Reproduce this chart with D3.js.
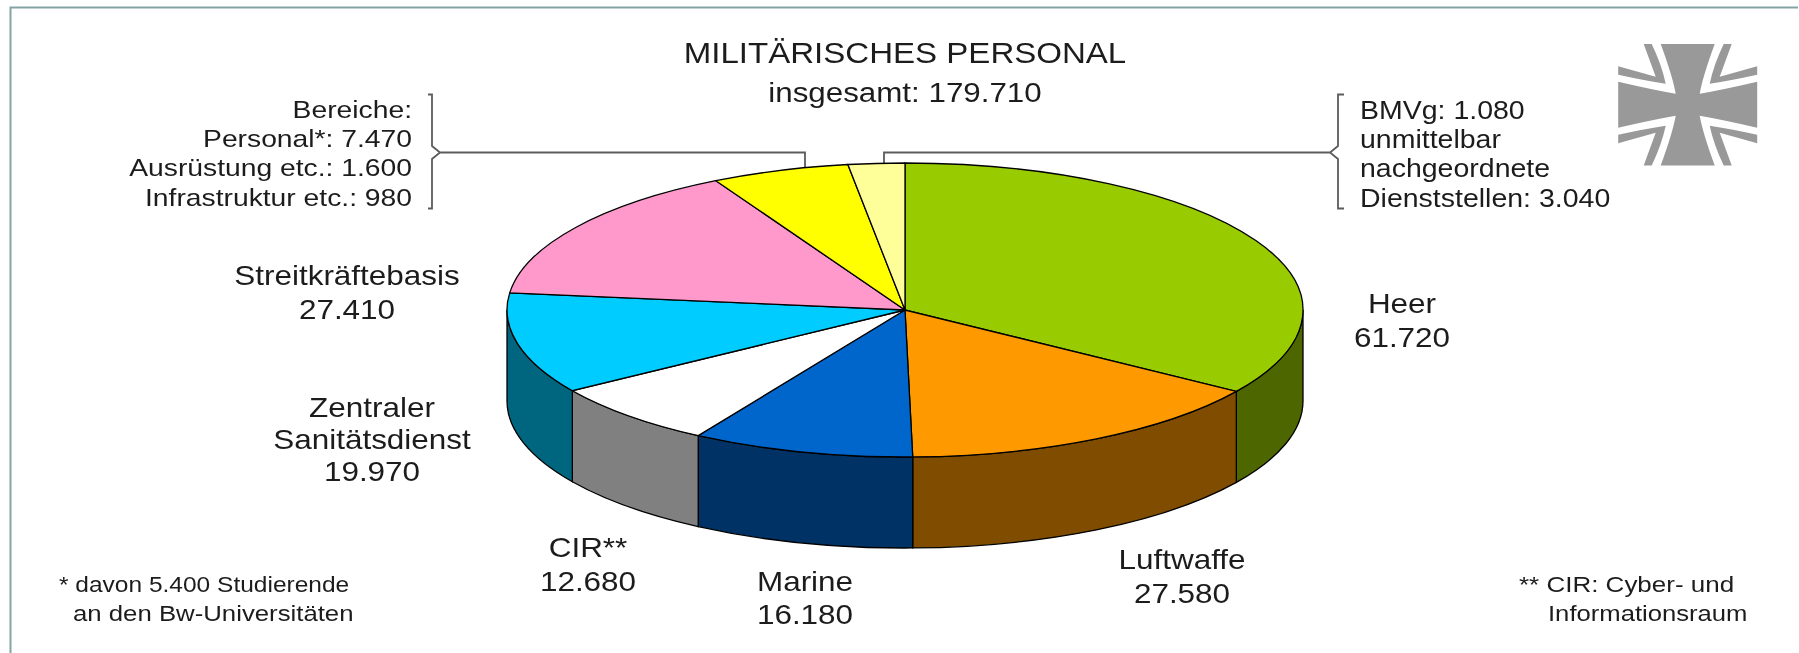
<!doctype html>
<html>
<head>
    <meta charset="UTF-8">
    <title>Militaerisches Personal</title>
    <script src="https://cdn.jsdelivr.net/npm/d3@7"></script>
    <style>
        body { margin:0; background:#fff; }
        text { font-family: "Liberation Sans", Arial, sans-serif; fill:#1c1c1c; }
    </style>
</head>
<body>
<script>
    // slices run clockwise from 12 o'clock
    var units = ['Heer', 'Luftwaffe', 'Marine', 'CIR', 'Zentraler Sanitätsdienst', 'Streitkräftebasis', 'Bereiche', 'BMVg'];
    var strength = [61720, 27580, 16180, 12680, 19970, 27410, 10050, 4120];
    var topColors = ['#99cc00', '#ff9900', '#0066cc', '#ffffff', '#00ccff', '#ff99cc', '#ffff00', '#ffff99'];
    var sideColors = ['#4d6600', '#804d00', '#003366', '#808080', '#006680', '#804d66', '#808000', '#808050'];

    var width = 1799, height = 653;
    var cx = 905, cy = 310, rx = 398, ry = 147, depth = 91;
    var stretch = 1.14;   // the source picture is wider than it is tall

    var svg = d3.select("body").append("svg")
        .attr("width", width)
        .attr("height", height)
        .style("display", "block");

    svg.append("defs").append("filter")
        .attr("id", "soft")
        .attr("x", 0).attr("y", 0)
        .attr("width", 1).attr("height", 1)
        .attr("filterUnits", "objectBoundingBox")
        .append("feGaussianBlur")
        .attr("stdDeviation", 0.6);

    var root = svg.append("g").attr("filter", "url(#soft)");

    root.append("rect").attr("width", width).attr("height", height).attr("fill", "#fff");

    // frame, runs off the bottom of the picture
    root.append("path")
        .attr("d", "M10.5,660 V7.5 H1798")
        .attr("fill", "none")
        .attr("stroke", "#86a3a3")
        .attr("stroke-width", 2);

    var pie = d3.pie().sort(null).value(function (d) { return d; });
    var slices = pie(strength);

    var x = d3.scaleLinear().domain([-1, 1]).range([cx - rx, cx + rx]);
    var y = d3.scaleLinear().domain([-1, 1]).range([cy - ry, cy + ry]);

    var px = function (a) { return x(Math.sin(a)); };
    var py = function (a) { return y(-Math.cos(a)); };

    // BRACKET LINES (under the pie)
    var bracket = root.append("g")
        .attr("fill", "none")
        .attr("stroke", "#5c5c5c")
        .attr("stroke-width", 1.8);

    bracket.append("path").attr("d",
        "M428,94.5 H432 V146 L440,152.5 L432,159 V208.5 H428 M440,152.5 H805 V170");
    bracket.append("path").attr("d",
        "M1344,94.5 H1338 V146 L1330,152.5 L1338,159 V208.5 H1344 M1330,152.5 H884 V170");

    // SIDE WALLS, only the front half can be seen
    var wall = function (d) {
        var a0 = Math.max(d.startAngle, Math.PI / 2),
            a1 = Math.min(d.endAngle, 3 * Math.PI / 2);
        if (a1 <= a0) { return null; }
        return "M" + px(a0) + "," + py(a0) +
            "A" + rx + "," + ry + " 0 0 1 " + px(a1) + "," + py(a1) +
            "V" + (py(a1) + depth) +
            "A" + rx + "," + ry + " 0 0 0 " + px(a0) + "," + (py(a0) + depth) + "Z";
    };

    root.selectAll(".wall")
        .data(slices)
        .enter()
        .append("path")
        .attr("class", "wall")
        .attr("d", wall)
        .attr("fill", function (d, i) { return sideColors[i]; })
        .attr("stroke", "#000")
        .attr("stroke-width", 1.3);

    // TOP FACE
    var arc = d3.arc().innerRadius(0).outerRadius(rx);

    root.append("g")
        .attr("transform", "translate(" + cx + "," + cy + ") scale(1," + (ry / rx) + ")")
        .selectAll(".slice")
        .data(slices)
        .enter()
        .append("path")
        .attr("class", "slice")
        .attr("d", arc)
        .attr("fill", function (d, i) { return topColors[i]; })
        .attr("stroke", "#000")
        .attr("stroke-width", 1.3)
        .attr("vector-effect", "non-scaling-stroke");

    // LABELS
    var addText = function (str, tx, ty, size, anchor) {
        root.append("text")
            .text(str)
            .attr("transform", "translate(" + tx + "," + ty + ") scale(" + stretch + ",1)")
            .attr("font-size", size)
            .attr("text-anchor", anchor);
    };

    addText("MILITÄRISCHES PERSONAL", 905, 63, 29, "middle");
    addText("insgesamt: 179.710", 905, 102, 27.5, "middle");

    var leftNote = ['Bereiche:', 'Personal*: 7.470', 'Ausrüstung etc.: 1.600', 'Infrastruktur etc.: 980'];
    var leftNoteY = [118, 147, 176, 206];
    leftNote.forEach(function (s, i) { addText(s, 412, leftNoteY[i], 24.8, "end"); });

    var rightNote = ['BMVg: 1.080', 'unmittelbar', 'nachgeordnete', 'Dienststellen: 3.040'];
    var rightNoteY = [119, 148, 177, 207];
    rightNote.forEach(function (s, i) { addText(s, 1360, rightNoteY[i], 25, "start"); });

    var unitLabels = [
        { lines: ['Heer', '61.720'], x: 1402, y: [313, 347] },
        { lines: ['Luftwaffe', '27.580'], x: 1182, y: [569, 603] },
        { lines: ['Marine', '16.180'], x: 805, y: [591, 624] },
        { lines: ['CIR**', '12.680'], x: 588, y: [557, 591] },
        { lines: ['Zentraler', 'Sanitätsdienst', '19.970'], x: 372, y: [417, 449, 481] },
        { lines: ['Streitkräftebasis', '27.410'], x: 347, y: [285, 319] }
    ];
    unitLabels.forEach(function (d) {
        d.lines.forEach(function (s, i) { addText(s, d.x, d.y[i], 27.6, "middle"); });
    });

    addText("* davon 5.400 Studierende", 59, 592, 21.5, "start");
    addText("an den Bw-Universitäten", 73, 621, 22.6, "start");
    addText("** CIR: Cyber- und", 1519, 592, 22.8, "start");
    addText("Informationsraum", 1548, 621, 22.5, "start");

    // EMBLEM
    var emblem = root.append("g")
        .attr("transform", "translate(1687.7,104.7)")
        .attr("fill", "#999");

    emblem.append("path").attr("d",
        "M-27,-60.7 H27 Q15,-28 12,-11 Q35,-15 69.5,-23 V23 Q35,15 12,11 Q15,28 27,60.7 H-27 " +
        "Q-15,28 -12,11 Q-35,15 -69.5,23 V-23 Q-35,-15 -12,-11 Q-15,-28 -27,-60.7 Z");

    [[1, 1], [-1, 1], [1, -1], [-1, -1]].forEach(function (m) {
        emblem.append("path")
            .attr("transform", "scale(" + m[0] + "," + m[1] + ")")
            .attr("d", "M36,-60.7 H44 L32,-28 L69.5,-38.5 V-30 Q42,-24 22,-21 Q26,-40 36,-60.7 Z");
    });
</script>
</body>
</html>
